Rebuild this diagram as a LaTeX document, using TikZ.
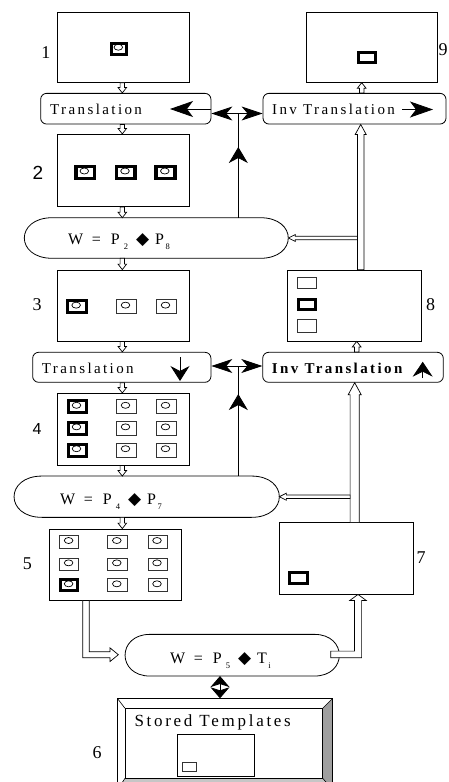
\documentclass[tikz,border=0pt]{standalone}
\usepackage{fontspec}
\setmainfont{Liberation Serif}
\newfontfamily\sansnum{Liberation Sans}
\newfontfamily\symfont{DejaVu Sans}
\newfontfamily\spaced[LetterSpace=16]{Liberation Serif}
\usetikzlibrary{arrows.meta,calc}

% hollow (outlined) block arrow from #1 to #2: half shaft, half head, head length
\newcommand\hollow[5]{%
  \draw[hol] let \p1=#1, \p2=#2,
    \n1={veclen(\x2-\x1,\y2-\y1)}, \n2={(\x2-\x1)/\n1}, \n3={(\y2-\y1)/\n1} in
    ({\x1-(\n3)*#3pt},{\y1+(\n2)*#3pt}) --
    ({\x2-(\n2)*#5pt-(\n3)*#3pt},{\y2-(\n3)*#5pt+(\n2)*#3pt}) --
    ({\x2-(\n2)*#5pt-(\n3)*#4pt},{\y2-(\n3)*#5pt+(\n2)*#4pt}) --
    (\p2) --
    ({\x2-(\n2)*#5pt+(\n3)*#4pt},{\y2-(\n3)*#5pt-(\n2)*#4pt}) --
    ({\x2-(\n2)*#5pt+(\n3)*#3pt},{\y2-(\n3)*#5pt-(\n2)*#3pt}) --
    ({\x1+(\n3)*#3pt},{\y1-(\n2)*#3pt}) -- cycle;}

% flat-topped outline with rounded ends around an invisible node
\newcommand\capsule[2]{%
  \draw[line width=0.8pt] ([xshift=#2pt]#1.north west) -- ([xshift=-#2pt]#1.north east)
    .. controls ([xshift={0.333*#2pt}]#1.north east) and ([xshift={0.333*#2pt}]#1.south east) ..
    ([xshift=-#2pt]#1.south east) -- ([xshift=#2pt]#1.south west)
    .. controls ([xshift={-0.333*#2pt}]#1.south west) and ([xshift={-0.333*#2pt}]#1.north west) ..
    ([xshift=#2pt]#1.north west) -- cycle;}

% small image icons
\newcommand\thickbox[4]{\draw[line width=3pt] ({#1+1.5},{#2+1.5}) rectangle ({#3-1.5},{#4-1.5});}
\newcommand\thinbox[4]{\draw[line width=0.9pt, black!80] ({#1+0.45},{#2+0.45}) rectangle ({#3-0.45},{#4-0.45});}
\newcommand\blob[4]{\draw[line width=0.7pt] ({(#1+#3)/2-0.7},{(#2+#4)/2-1.5}) ellipse [x radius=4.3, y radius=3];}

% W = X_a <diamond> Y_b
\newcommand\wexpr[3]{W\hspace{8.6pt}=\hspace{10pt}P\hspace{4pt}\raisebox{-5pt}{\fontsize{8.5}{9}\selectfont #1}\hspace{8pt}{\symfont\fontsize{17}{18}\selectfont ◆}\hspace{6pt}#2\hspace{1.5pt}\raisebox{-5pt}{\fontsize{8.5}{9}\selectfont #3}}

\begin{document}
\begin{tikzpicture}[x=1pt,y=-1pt,
  panel/.style={draw=black, line width=0.8pt, inner sep=0pt, rectangle},
  rbox/.style={panel, rounded corners=6pt},
  plain/.style={inner sep=0pt, outer sep=0pt},
  lbl/.style={inner sep=0pt, anchor=base, font=\fontsize{18}{20}\selectfont},
  ttext/.style={inner sep=0pt, anchor=base west, font=\spaced\fontsize{15}{18}\selectfont},
  wtext/.style={inner sep=0pt, anchor=base west, font=\fontsize{16}{18}\selectfont},
  hol/.style={draw=black, fill=white, line width=0.7pt, line join=miter},
  blk/.style={line width=0.8pt}]
\useasboundingbox (0,0) rectangle (448,782);

% ---------- boxes ----------
\node[panel, minimum width=131.6pt, minimum height=70pt] (b1) at (123.5,47.3) {};
\node[panel, minimum width=131.7pt, minimum height=70pt] (b9) at (371.8,47.3) {};
\node[rbox, minimum width=170.3pt, minimum height=30.7pt] (t1) at (125.8,108.7) {};
\node[rbox, minimum width=183pt, minimum height=30.7pt] (it1) at (354.5,108.7) {};
\node[panel, minimum width=131.6pt, minimum height=72.4pt] (b2) at (123.5,170.5) {};
\node[plain, minimum width=264pt, minimum height=40.6pt] (e1) at (156.3,238) {};
\node[panel, minimum width=131.6pt, minimum height=71pt] (b3) at (123.5,305.5) {};
\node[panel, minimum width=133.3pt, minimum height=71pt] (b8) at (354.3,305.5) {};
\node[rbox, minimum width=178.3pt, minimum height=30pt] (t2) at (121.8,367.3) {};
\node[rbox, minimum width=180.6pt, minimum height=30pt] (it2) at (353,367.3) {};
\node[panel, minimum width=131.6pt, minimum height=71.7pt] (b4) at (123.5,429.2) {};
\node[plain, minimum width=265.3pt, minimum height=41.3pt] (e2) at (146.7,496.7) {};
\node[panel, minimum width=131.7pt, minimum height=71pt] (b5) at (115.2,564.5) {};
\node[panel, minimum width=134.3pt, minimum height=71.3pt] (b7) at (346.2,558.4) {};
\node[plain, minimum width=214.3pt, minimum height=41.7pt] (e3) at (232.2,655.2) {};
\node[plain, minimum width=215.4pt, minimum height=91.7pt] (b6) at (225,744.15) {};

\capsule{e1}{28}
\capsule{e2}{28}
\capsule{e3}{25}

% ---------- template store frame ----------
\coordinate (i6nw) at ([xshift=7.7pt,yshift=-10pt]b6.north west);
\coordinate (i6ne) at ([xshift=-10pt,yshift=-10pt]b6.north east);
\coordinate (i6se) at ([xshift=-10pt,yshift=11.7pt]b6.south east);
\coordinate (i6sw) at ([xshift=7.7pt,yshift=11.7pt]b6.south west);
\fill[gray!75] (b6.north east) -- (b6.south east) -- (i6se) -- (i6ne) -- cycle;
\fill[gray!45] (b6.south west) -- (b6.south east) -- (i6se) -- (i6sw) -- cycle;
\draw[line width=0.8pt] (b6.north west) rectangle (b6.south east);
\draw[line width=0.8pt] (i6nw) rectangle (i6se);
\draw[line width=0.6pt] (b6.north west) -- (i6nw) (b6.north east) -- (i6ne)
  (b6.south east) -- (i6se) (b6.south west) -- (i6sw);
\node[panel, minimum width=76.6pt, minimum height=41.7pt] (tpl) at (216,755.15) {};
\thinbox{182.3}{762.3}{196.7}{771.7}

% ---------- icons ----------
\thickbox{110}{41.7}{128}{55.7}\blob{110}{41.7}{128}{55.7}
\thickbox{357}{50.7}{377}{64.3}
\foreach \xa/\xb in {74/96, 114.7/136.7, 154.3/176.7}{%
  \draw[line width=3.5pt] ({\xa+1.75},166.45) rectangle ({\xb-1.75},178.55);
  \blob{\xa}{164.7}{\xb}{180.3}}
\thickbox{66}{299.3}{87.7}{314}\blob{66}{299.3}{87.7}{314}
\thinbox{115.7}{299.3}{136.7}{314}\blob{115.7}{299.3}{136.7}{314}
\thinbox{155.7}{299.3}{176.7}{314}\blob{155.7}{299.3}{176.7}{314}
\thinbox{296.7}{276.7}{316.7}{289.3}
\thickbox{296.7}{297.7}{316.7}{311}
\thinbox{296.7}{319.3}{316.7}{332.7}
\foreach \ya/\yb in {399.3/414.3, 421/435.7, 442.7/457.7}{%
  \thickbox{66.7}{\ya}{87.7}{\yb}\blob{66.7}{\ya}{87.7}{\yb}
  \foreach \xa/\xb in {115.7/136.7, 155.7/176.7}{%
    \thinbox{\xa}{\ya}{\xb}{\yb}\blob{\xa}{\ya}{\xb}{\yb}}}
\foreach \ya/\yb in {535/549, 557.7/571}{%
  \foreach \xa/\xb in {59.3/79.3, 107.3/127.7, 147.7/167.7}{%
    \thinbox{\xa}{\ya}{\xb}{\yb}\blob{\xa}{\ya}{\xb}{\yb}}}
\thickbox{59.3}{578.3}{79.3}{592.3}\blob{59.3}{578.3}{79.3}{592.3}
\foreach \xa/\xb in {107.3/127.7, 147.7/167.7}{%
  \thinbox{\xa}{578.3}{\xb}{592.3}\blob{\xa}{578.3}{\xb}{592.3}}
\thickbox{288.3}{570.7}{309.3}{585}

% ---------- texts ----------
\node[ttext] (t1txt) at (50,114.3) {Translation};
\node[ttext] (it1txt) at (272,114.3) {Inv Translation};
\node[ttext] (t2txt) at (41.7,373.3) {Translation};
\node[ttext, font=\spaced\bfseries\fontsize{15}{18}\selectfont] (it2txt) at (271.7,373.3) {Inv Translation};
\node[ttext, font=\spaced\fontsize{17}{20}\selectfont] (sttxt) at (134.3,726.7) {Stored Templates};
\node[wtext] (e1txt) at (68,244) {\wexpr{2}{P}{8}};
\node[wtext] (e2txt) at (60,504) {\wexpr{4}{P}{7}};
\node[wtext] (e3txt) at (170,663.3) {\wexpr{5}{T}{i}};

\node[lbl] (n1) at (45.8,58.3) {1};
\node[lbl] (n9) at (443,55) {9};
\node[lbl, font=\sansnum\fontsize{19}{21}\selectfont] (n2) at (38,179.3) {2};
\node[lbl] (n3) at (37,310.7) {3};
\node[lbl] (n8) at (430.5,310.7) {8};
\node[lbl, font=\sansnum\fontsize{16}{18}\selectfont] (n4) at (37,434.3) {4};
\node[lbl] (n5) at (27.5,569.3) {5};
\node[lbl] (n7) at (421,563.3) {7};
\node[lbl] (n6) at (97,758.3) {6};

% ---------- hollow flow arrows ----------
\coordinate (lc) at (122.3,0);
\hollow{(b1.south -| lc)}{(t1.north -| lc)}{2.2}{4.3}{5.5}
\hollow{(t1.south -| lc)}{(b2.north -| lc)}{2.2}{4.3}{5.5}
\hollow{(b2.south -| lc)}{(e1.north -| lc)}{2.2}{4.3}{5.5}
\hollow{(e1.south -| lc)}{(b3.north -| lc)}{2.2}{4.3}{5.5}
\hollow{(b3.south -| lc)}{(t2.north -| lc)}{2.2}{4.3}{5.5}
\hollow{(t2.south -| lc)}{(b4.north -| lc)}{2.2}{4.3}{5.5}
\hollow{(b4.south -| lc)}{(e2.north -| lc)}{2.2}{4.3}{5.5}
\hollow{(e2.south -| lc)}{(b5.north -| lc)}{2.2}{4.3}{5.5}

\coordinate (rc1) at (361.7,0);
\coordinate (rc2) at (360.7,0);
\coordinate (rc3) at (356.7,0);
\coordinate (rc4) at (354.7,0);
\coordinate (br1) at (357.4,0);
\coordinate (br2) at (350.1,0);
\hollow{(it1.north -| rc1)}{(b9.south -| rc1)}{2.2}{4.3}{5.5}
\hollow{(it2.north -| rc3)}{(b8.south -| rc3)}{2.2}{4.3}{5.5}
\hollow{(b8.north -| rc2)}{(it1.south -| rc2)}{3.3}{5.5}{10}
\hollow{(e1.east -| br1)}{(e1.east)}{1.8}{3.5}{7}
\hollow{(b7.north -| rc4)}{(it2.south -| rc4)}{4.6}{6.5}{12}
\hollow{(e2.east -| br2)}{(e2.east)}{1.8}{3.5}{7}

% L-shaped arrows around the matching step
\coordinate (bend5) at (86,654.7);
\draw[hol] let \p1=(b5.south -| bend5), \p2=(bend5), \p3=([xshift=-6.7pt]e3.west |- bend5) in
  ({\x1-3.3pt},\y1) -- ({\x1-3.3pt},{\y2-3pt}) -- ({\x3-8.3pt},{\y2-3pt}) -- ({\x3-8.3pt},{\y2-6.8pt})
  -- (\p3) -- ({\x3-8.3pt},{\y2+6.8pt}) -- ({\x3-8.3pt},{\y2+3pt}) -- ({\x1+3.3pt},{\y2+3pt})
  -- ({\x1+3.3pt},\y1) -- cycle;
\coordinate (bend7) at (358,654.4);
\draw[hol] let \p1=([xshift=-8.6pt]e3.east |- bend7), \p2=(bend7), \p3=(b7.south -| bend7) in
  (\x1,{\y1+3.3pt}) -- ({\x2-3.6pt},{\y1+3.3pt}) -- ({\x2-3.6pt},{\y3-6pt}) -- ({\x2-8.2pt},{\y3-6pt})
  -- (\p3) -- ({\x2+8.2pt},{\y3-6pt}) -- ({\x2+3.6pt},{\y3-6pt}) -- ({\x2+3.6pt},{\y1-3.3pt})
  -- (\x1,{\y1-3.3pt}) -- cycle;

% ---------- solid control arrows ----------
\coordinate (tr1) at (170,109);
\coordinate (ia1) at (402,109.5);
\coordinate (ib1) at (433,109.5);
\coordinate (j1) at (238.3,113.5);
\coordinate (j2) at (238.3,366);
\coordinate (td2a) at (180,357);
\coordinate (td2b) at (180,381);
\coordinate (iu2a) at (422.7,378);
\coordinate (iu2b) at (422.7,361.7);
\coordinate (dc) at (220,0);

\draw[blk, -{Stealth[length=23pt,width=16pt,inset=6pt]}] (t1.east |- tr1) -- (tr1);
\draw[blk, -{Stealth[length=23pt,width=16pt,inset=6pt]}] (ia1) -- (ib1);
\draw[blk, {Stealth[length=21pt,width=14pt,inset=6pt]}-{Stealth[length=21pt,width=14pt,inset=6pt]}]
  (t1.east |- j1) -- (it1.west |- j1);
\draw[blk] (j1) -- (e1.north -| j1);
\draw[blk, -{Stealth[length=16pt,width=19pt,inset=5pt]}] (e1.north -| j1) -- ++(0,-70.7);

\draw[blk, -{Stealth[length=15pt,width=19pt,inset=5pt]}] (td2a) -- (td2b);
\draw[blk, -{Stealth[length=15pt,width=20pt,inset=5pt]}] (iu2a) -- (iu2b);
\draw[blk, {Stealth[length=21pt,width=14pt,inset=6pt]}-{Stealth[length=21pt,width=14pt,inset=6pt]}]
  (t2.east |- j2) -- (it2.west |- j2);
\draw[blk] (j2) -- (e2.north -| j2);
\draw[blk, -{Stealth[length=16pt,width=19pt,inset=5pt]}] (e2.north -| j2) -- ++(0,-82);

\draw[blk, {Stealth[length=11pt,width=19pt,inset=3pt]}-{Stealth[length=11pt,width=19pt,inset=3pt]}]
  (e3.south -| dc) -- (b6.north -| dc);
\end{tikzpicture}
\end{document}
